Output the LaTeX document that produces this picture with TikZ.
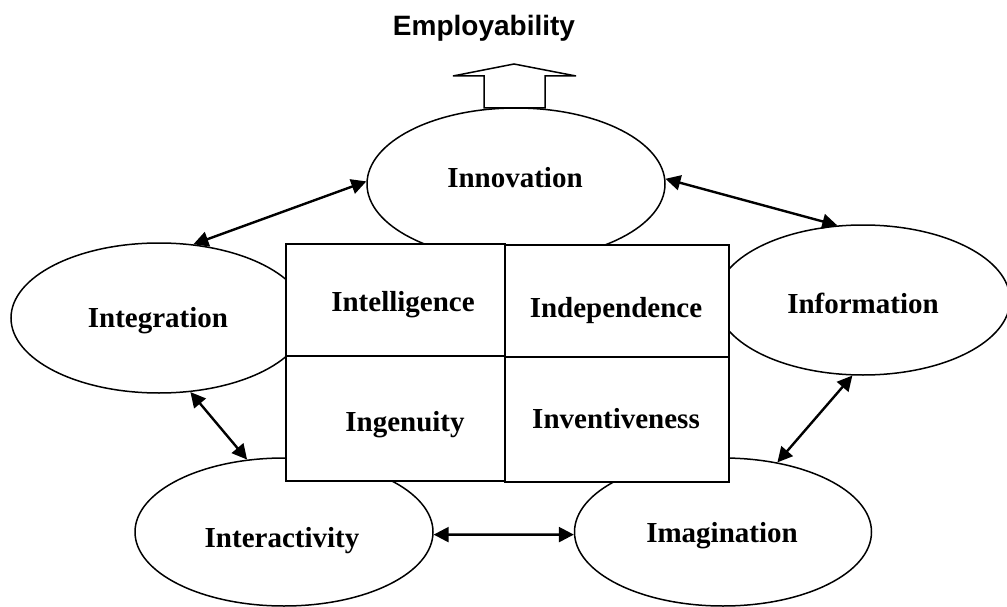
\documentclass[tikz,border=0pt]{standalone}
\usepackage{fontspec}
\setmainfont{Liberation Serif}
\newfontfamily\sansfont{Liberation Sans}
\usetikzlibrary{shapes.geometric,arrows.meta}
\begin{document}
\begin{tikzpicture}[x=1pt,y=-1pt,
  oval/.style={draw, ellipse, fill=white, line width=1.5pt, inner sep=0pt},
  cell/.style={draw, fill=white, line width=1.8pt, inner sep=0pt, anchor=north west},
  lbl/.style={font=\fontsize{29}{34}\selectfont\bfseries, anchor=base, inner sep=0pt},
  link/.style={{Triangle[length=15pt,width=15pt]}-{Triangle[length=15pt,width=15pt]}, line width=2.4pt},
  blockarrow/.style={draw, fill=white, line width=1.5pt, line join=miter}
]
\useasboundingbox (0,0) rectangle (1007,607);
% ellipses
\node[oval, minimum width=298pt, minimum height=152pt] (inno) at (516,184) {};
\node[oval, minimum width=296pt, minimum height=150pt] (integ) at (159,318) {};
\node[oval, minimum width=294pt, minimum height=150pt] (info) at (863,300) {};
\node[oval, minimum width=298pt, minimum height=148pt] (inter) at (284,532) {};
\node[oval, minimum width=297pt, minimum height=148pt] (imag) at (723,532) {};
% block arrow
\draw[blockarrow] (484,108) -- (484,76) -- (453,76) -- (514,64) -- (576,76) -- (545,76) -- (545,108) -- cycle;
% central cells
\node[cell, minimum width=219pt, minimum height=112pt] (tl) at (285,243) {};
\node[cell, minimum width=224pt, minimum height=112pt] (tr) at (504,244) {};
\node[cell, minimum width=219pt, minimum height=125pt] (bl) at (285,355) {};
\node[cell, minimum width=224pt, minimum height=125pt] (br) at (504,356) {};
% connectors
\draw[link] (integ.65) -- (inno.179);
\draw[link] (inno.2) -- (info.109.6);
\draw[link] (integ.-67.5) -- (inter.117.8);
\draw[link] (info.-98.2) -- (imag.52.1);
\draw[link] (inter.-1.6) -- (imag.181.6);
% labels
\node[lbl, font=\fontsize{28}{32}\selectfont\sansfont\bfseries] (emp) at (484,36) {Employability};
\node[lbl] (innoT) at (515,188) {Innovation};
\node[lbl] (integT) at (158,327) {Integration};
\node[lbl] (infoT) at (863,313) {Information};
\node[lbl] (interT) at (282,547) {Interactivity};
\node[lbl] (imagT) at (722,542) {Imagination};
\node[lbl] (tlT) at (403,311) {Intelligence};
\node[lbl] (trT) at (616,317) {Independence};
\node[lbl] (blT) at (405,431) {Ingenuity};
\node[lbl] (brT) at (616,428) {Inventiveness};
\end{tikzpicture}
\end{document}
